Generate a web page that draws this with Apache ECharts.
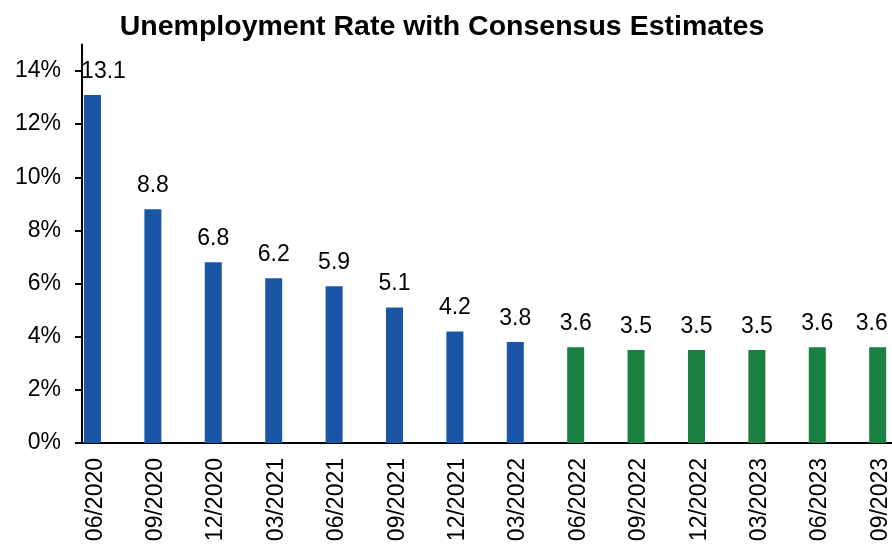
<!DOCTYPE html>
<html>
<head>
<meta charset="utf-8">
<script src="https://cdn.jsdelivr.net/npm/echarts@6/dist/echarts.min.js"></script>
<style>
  html, body { margin: 0; padding: 0; background: #fff; }
  #chart { width: 892px; height: 544px; }
</style>
</head>
<body>
<div id="chart"></div>
<script>
// Quarter labels along the x axis
const quarters = ['06/2020', '09/2020', '12/2020', '03/2021', '06/2021', '09/2021', '12/2021',
  '03/2022', '06/2022', '09/2022', '12/2022', '03/2023', '06/2023', '09/2023'];
// Reported unemployment rate (%)
const actualRates = [13.1, 8.8, 6.8, 6.2, 5.9, 5.1, 4.2, 3.8];
// Consensus estimates (%)
const consensusRates = [3.6, 3.5, 3.5, 3.5, 3.6, 3.6];
// Y axis tick values (%)
const yTicks = [0, 2, 4, 6, 8, 10, 12, 14];

const BLUE = '#1B56A6';
const GREEN = '#1A8042';
const FONT = '"Liberation Sans", Arial, sans-serif';

const barData = actualRates.map(v => ({ value: v, itemStyle: { color: BLUE } }))
  .concat(consensusRates.map(v => ({ value: v, itemStyle: { color: GREEN } })));
// nudge the end labels so they stay clear of the axis and the edge
barData[0].label = { offset: [11, 0] };
barData[barData.length - 1].label = { offset: [-6, 0] };

const chart = echarts.init(document.getElementById('chart'), null, { renderer: 'canvas' });
chart.setOption({
  animation: false,
  backgroundColor: '#fff',
  title: {
    text: 'Unemployment Rate with Consensus Estimates',
    left: 437,
    textAlign: 'center',
    top: 8,
    textStyle: { fontFamily: FONT, fontSize: 28.5, fontWeight: 'bold', color: '#000' }
  },
  // the plot runs a little past the right edge of the canvas
  grid: { left: 82, width: 845.6, top: 44.4, bottom: 101, containLabel: false, outerBoundsMode: 'none' },
  xAxis: {
    type: 'category',
    data: quarters,
    boundaryGap: true,
    axisLine: { lineStyle: { color: '#000', width: 2 } },
    axisTick: { show: false },
    axisLabel: {
      rotate: 90, margin: 15, fontFamily: FONT, fontSize: 23, color: '#000', interval: 0,
      // tall line box sitting on the anchor, so each label lines up under its bar
      verticalAlign: 'bottom',
      lineHeight: 34
    }
  },
  yAxis: {
    type: 'value',
    min: 0, max: 15, interval: 2,
    splitLine: { show: false },
    axisLine: { show: true, lineStyle: { color: '#000', width: 2 } },
    axisTick: { show: true, length: 7, lineStyle: { color: '#000', width: 2 }, customValues: yTicks },
    axisLabel: {
      margin: 21, fontFamily: FONT, fontSize: 23, color: '#000',
      customValues: yTicks,
      formatter: v => v + '%'
    }
  },
  series: [
    {
      name: 'Unemployment Rate',
      type: 'bar',
      data: barData,
      barWidth: 17,
      barGap: '132%',
      label: {
        show: true, position: 'top', distance: 12,
        fontFamily: FONT, fontSize: 23, color: '#000',
        formatter: p => p.value.toFixed(1)
      }
    },
    {
      // empty companion column; keeps each bar on the left side of its slot
      name: 'spacer',
      type: 'bar',
      data: [],
      barWidth: 17
    }
  ]
});
</script>
</body>
</html>
